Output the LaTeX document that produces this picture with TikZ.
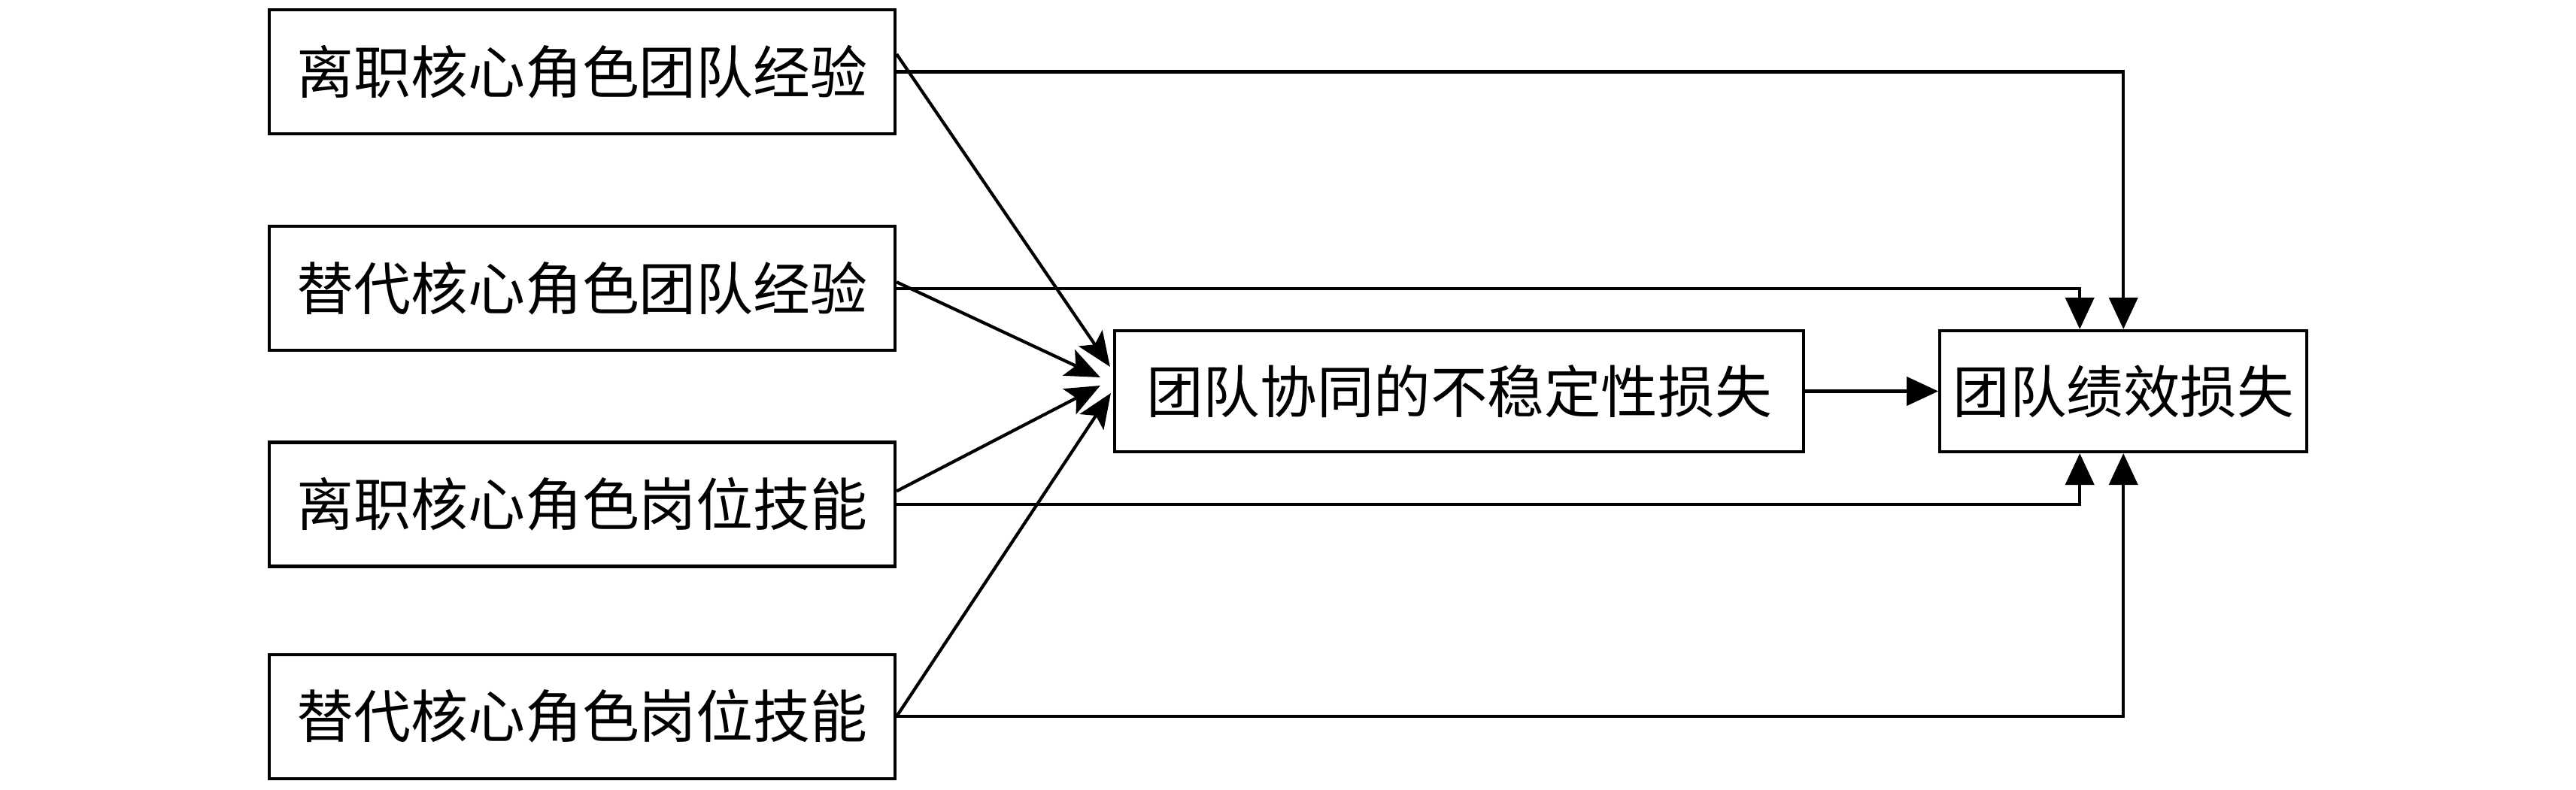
\documentclass[tikz,border=0pt]{standalone}
\usepackage{fontspec}
\newfontfamily\cjk{Noto Sans CJK SC}
\usepackage{tikz}
\usetikzlibrary{positioning,arrows.meta}

\begin{document}
\begin{tikzpicture}[
  inbox/.style={draw, line width=1.2pt, minimum width=8.32cm, minimum height=1.65cm,
                inner sep=0pt, text centered, font=\cjk\fontsize{21.6pt}{24pt}\selectfont},
  outbox/.style={draw, line width=1.2pt, minimum height=1.61cm, inner sep=0pt,
                 text centered, font=\cjk\fontsize{21.5pt}{24pt}\selectfont},
  arr/.style={-{Triangle[length=0.42cm, width=0.38cm]}, line width=1.2pt},
  conv/.style={-{Stealth[length=0.46cm, width=0.38cm, inset=0.1cm]}, line width=1.2pt}
]
\useasboundingbox (0,0) rectangle (34.25,10.51);

%% --- Core-role inputs (left column) ---
\node[inbox] at (7.74,9.555) (b1) {离职核心角色团队经验};
\node[inbox, below=1.19cm of b1] (b2) {替代核心角色团队经验};
\node[inbox, below=1.18cm of b2] (b3) {离职核心角色岗位技能};
\node[inbox, below=1.13cm of b3] (b4) {替代核心角色岗位技能};

%% --- Mediator and outcome ---
\node[outbox, minimum width=9.16cm] at (19.40,5.305) (mid) {团队协同的不稳定性损失};
\node[outbox, minimum width=4.88cm, right=1.77cm of mid] (perf) {团队绩效损失};
\draw[arr] (mid) -- (perf);

%% --- Inputs to mediator ---
\draw[conv] ([yshift=0.235cm]b1.east) -- ([xshift=-0.04cm, yshift=0.325cm]mid.west);
\draw[conv] ([yshift=0.085cm]b2.east) -- ([xshift=-0.17cm, yshift=0.185cm]mid.west);
\draw[conv] ([yshift=0.175cm]b3.east) -- ([xshift=-0.17cm, yshift=0.075cm]mid.west);
\draw[conv] (b4.east) -- ([xshift=-0.03cm, yshift=-0.025cm]mid.west);

%% --- Direct paths to outcome ---
\draw[arr] (b1.east) -| (perf.north);
\draw[arr] (b2.east) -| ([xshift=-0.58cm]perf.north);
\draw[arr] (b3.east) -| ([xshift=-0.58cm]perf.south);
\draw[arr] (b4.east) -| (perf.south);
\end{tikzpicture}
\end{document}
